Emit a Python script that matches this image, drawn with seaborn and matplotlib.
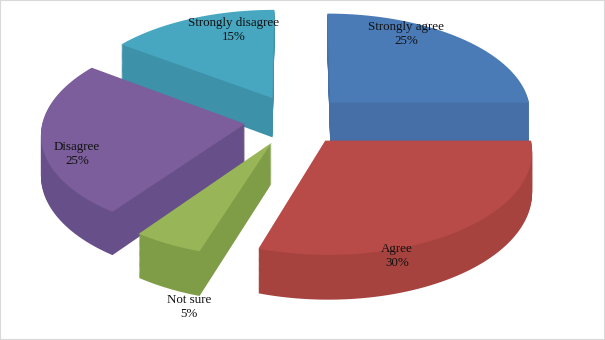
import matplotlib
matplotlib.use("Agg")
import numpy as np
import matplotlib.pyplot as plt
from matplotlib.patches import Rectangle
from matplotlib.path import Path
from matplotlib.transforms import Transform
import seaborn as sns

# ---- data ----
categories = ["Strongly agree", "Agree", "Not sure", "Disagree", "Strongly disagree"]
values = [25, 30, 5, 25, 15]

# ---- style ----
top_colors = ["#4A7BB7", "#B84B48", "#98B657", "#7B5E9B", "#47A6C0"]
side_colors = ["#456FA6", "#A7433F", "#7F9C47", "#67508A", "#3D91A8"]
explode = [0.25] * 5
label_px = [(406, 34), (397, 256), (189, 307), (77, 154), (234, 30)]


def flatten(path, n=24):
    pts = []
    for seg, code in path.iter_bezier():
        if code == Path.MOVETO:
            pts.append(seg.control_points[0])
            continue
        t = np.linspace(0, 1, n + 1)[1:]
        pts.extend(seg.point_at_t(ti) for ti in t)
    return np.array(pts, dtype=float)


class Perspective(Transform):
    """Project a tilted unit disc (at height z) into pixel coordinates."""
    input_dims = output_dims = 2
    is_separable = False
    has_inverse = False

    def __init__(self, z, cx=295.0, cy=120.0, sx=202.0, sy=100.0, h=40.0, k=0.09):
        super().__init__()
        self.z, self.cx, self.cy, self.sx, self.sy, self.h, self.k = z, cx, cy, sx, sy, h, k

    def transform_non_affine(self, values):
        v = np.asarray(values, dtype=float)
        x, y = v[:, 0], v[:, 1]
        d = 1.0 + self.k * y
        X = self.cx + self.sx * x / d
        Y = self.cy - (self.sy * y - self.h * self.z) / d
        return np.column_stack([X, Y])

    def transform_path_non_affine(self, path):
        return Path(self.transform_non_affine(flatten(path)), closed=True)


sns.set_theme(style="white")
plt.rcParams["font.family"] = ["Liberation Serif", "DejaVu Serif"]

W, H = 605, 340
fig = plt.figure(figsize=(W / 100, H / 100), dpi=100)
ax = fig.add_axes([0, 0, 1, 1])

n_layers = 40
# side walls: stacked pies, bottom first
for k in range(n_layers, 0, -1):
    wedges, _ = ax.pie(values, explode=explode, colors=side_colors, startangle=90,
                       counterclock=False, radius=1.0,
                       wedgeprops=dict(linewidth=0))
    for w in wedges:
        w.set_transform(Perspective(k / n_layers) + ax.transData)
# top face
wedges, _ = ax.pie(values, explode=explode, colors=top_colors, startangle=90,
                   counterclock=False, radius=1.0, wedgeprops=dict(linewidth=0))
for w in wedges:
    w.set_transform(Perspective(0.0) + ax.transData)

ax.set_aspect("auto")
ax.set_xlim(0, W)
ax.set_ylim(H, 0)
ax.axis("off")

for cat, v, (x, y) in zip(categories, values, label_px):
    ax.text(x, y, f"{cat}\n{v}%", ha="center", va="center", fontsize=9.4,
            color="#111111", linespacing=1.2)

fig.patches.append(Rectangle((0, 0), 1, 1, transform=fig.transFigure,
                             fill=False, edgecolor="#d9d9d9", linewidth=1.5))

fig.savefig("out.png", dpi=100, facecolor="white")
